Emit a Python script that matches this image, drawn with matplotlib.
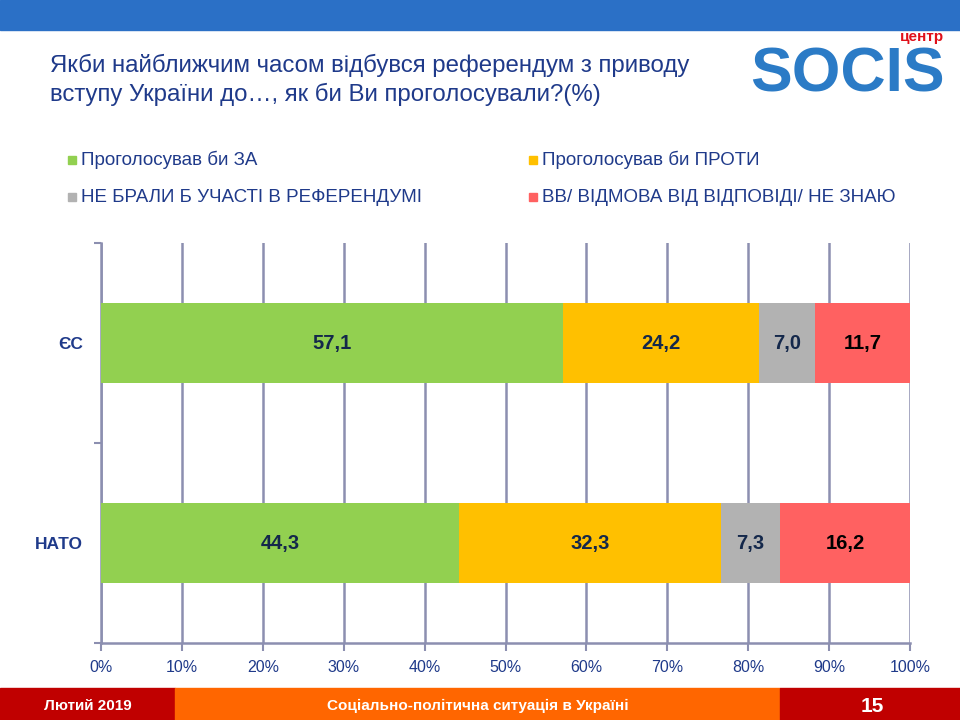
import matplotlib
matplotlib.use("Agg")
import matplotlib.pyplot as plt
import numpy as np
from matplotlib.patches import Rectangle

plt.rcParams['font.family'] = ['Liberation Sans', 'DejaVu Sans']

categories = ["НАТО", "ЄС"]
series_names = ["Проголосував би ЗА", "Проголосував би ПРОТИ",
                "НЕ БРАЛИ Б УЧАСТІ В РЕФЕРЕНДУМІ", "ВВ/ ВІДМОВА ВІД ВІДПОВІДІ/ НЕ ЗНАЮ"]
za = [44.3, 57.1]
proty = [32.3, 24.2]
ne_brali = [7.3, 7.0]
vv = [16.2, 11.7]
xticks = [0, 10, 20, 30, 40, 50, 60, 70, 80, 90, 100]

colors = ["#92D050", "#FFC000", "#B2B2B2", "#FF6161"]
label_colors = ["#14284B", "#14284B", "#14284B", "#000000"]
navy = "#1F3A8A"
grid_c = "#8C8FB0"

W, H = 960, 720
fig = plt.figure(figsize=(9.6, 7.2), dpi=100)

# header / footer bands
fig.patches.append(Rectangle((0, 1 - 30 / H), 1, 30 / H, transform=fig.transFigure,
                             color="#2B70C6", zorder=0))
fig.patches.append(Rectangle((0, 0), 175 / W, 32 / H, transform=fig.transFigure,
                             color="#C00000", zorder=0))
fig.patches.append(Rectangle((175 / W, 0), 605 / W, 32 / H, transform=fig.transFigure,
                             color="#FF6600", zorder=0))
fig.patches.append(Rectangle((780 / W, 0), 180 / W, 32 / H, transform=fig.transFigure,
                             color="#C00000", zorder=0))

fig.text(88 / W, 1 - 706 / H, "Лютий 2019", color="white", fontsize=11,
         fontweight="bold", ha="center", va="center")
fig.text(478 / W, 1 - 706 / H, "Соціально-політична ситуація в Україні", color="white",
         fontsize=11, fontweight="bold", ha="center", va="center")
fig.text(872 / W, 1 - 707 / H, "15", color="white", fontsize=15,
         fontweight="bold", ha="center", va="center")

# title
fig.text(50 / W, 1 - 65 / H, "Якби найближчим часом відбувся референдум з приводу",
         color=navy, fontsize=17.3, ha="left", va="center")
fig.text(50 / W, 1 - 94 / H, "вступу України до…, як би Ви проголосували?(%)",
         color=navy, fontsize=17.3, ha="left", va="center")

# logo
fig.text(750 / W, 1 - 75 / H, "SOCIS", color="#2B7BC6", fontsize=45,
         fontweight="bold", ha="left", va="center")
fig.text(944 / W, 1 - 37 / H, "центр", color="#E0101A", fontsize=11,
         fontweight="bold", ha="right", va="center")

# legend
leg_pos = [(72, 160), (533, 160), (72, 197), (533, 197)]
for (lx, ly), name, c in zip(leg_pos, series_names, colors):
    fig.patches.append(Rectangle(((lx - 4) / W, 1 - (ly + 4) / H), 8 / W, 8 / H,
                                 transform=fig.transFigure, color=c))
    fig.text((lx + 9) / W, 1 - ly / H, name, color=navy, fontsize=13.5,
             ha="left", va="center")

ax = fig.add_axes([101 / W, (H - 643) / H, (910 - 101) / W, 400 / H])
y = np.arange(len(categories))
left = np.zeros(len(categories))
for vals, c, lc in zip([za, proty, ne_brali, vv], colors, label_colors):
    vals = np.array(vals)
    ax.barh(y, vals, left=left, height=0.4, color=c, zorder=3)
    for yi, l, v in zip(y, left, vals):
        ax.text(l + v / 2, yi, f"{v:.1f}".replace(".", ","), ha="center", va="center",
                fontsize=14.5, fontweight="bold", color=lc, zorder=4)
    left = left + vals

ax.set_xlim(0, 100)
ax.set_ylim(-0.5, 1.5)
ax.set_xticks(xticks)
ax.set_xticklabels([f"{t}%" for t in xticks])
ax.set_yticks(y)
ax.set_yticklabels(categories)
ax.set_yticks([-0.5, 0.5, 1.5], minor=True)
ax.tick_params(axis="y", which="major", length=0, pad=13, labelsize=12.5,
               labelcolor=navy)
for t in ax.get_yticklabels():
    t.set_fontweight("bold")
ax.tick_params(axis="y", which="minor", length=5, width=1.5, color=grid_c)
ax.tick_params(axis="x", length=6, width=1.5, color=grid_c, direction="out",
               labelsize=11.5, labelcolor=navy, pad=6)
ax.grid(axis="x", color=grid_c, linewidth=1.8, zorder=0)
for s in ["top", "right"]:
    ax.spines[s].set_visible(False)
for s in ["left", "bottom"]:
    ax.spines[s].set_color(grid_c)
    ax.spines[s].set_linewidth(1.8)

fig.savefig("out.png", dpi=100)
